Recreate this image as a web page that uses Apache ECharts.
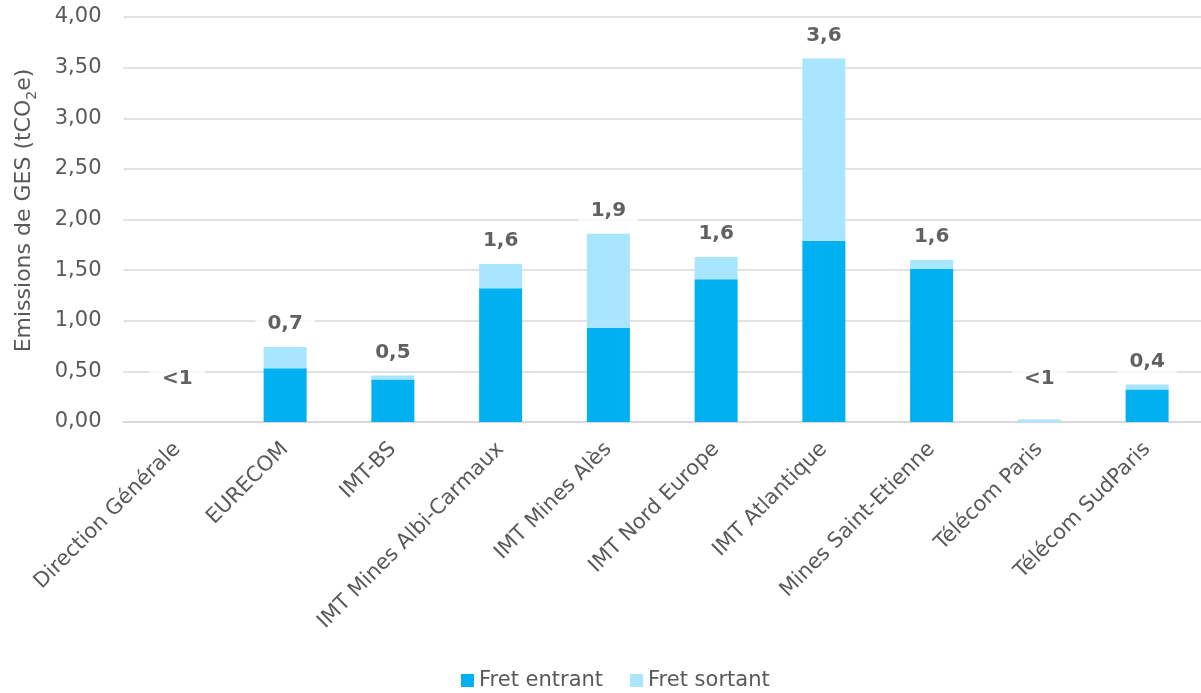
<!DOCTYPE html>
<html>
<head>
<meta charset="utf-8">
<script src="https://cdn.jsdelivr.net/npm/echarts@6/dist/echarts.min.js"></script>
<style>
  html, body { margin: 0; padding: 0; background: #ffffff; }
  #chart { width: 1201px; height: 693px; }
</style>
</head>
<body>
<div id="chart"></div>
<script>
// Établissements
const categories = [
  'Direction Générale', 'EURECOM', 'IMT-BS', 'IMT Mines Albi-Carmaux',
  'IMT Mines Alès', 'IMT Nord Europe', 'IMT Atlantique',
  'Mines Saint-Etienne', 'Télécom Paris', 'Télécom SudParis'
];
// Émissions en tCO2e
const fretEntrant = [0, 0.53, 0.42, 1.32, 0.93, 1.41, 1.79, 1.51, 0, 0.32];
const fretSortant = [0, 0.21, 0.04, 0.24, 0.93, 0.22, 1.80, 0.09, 0.025, 0.05];
// Totaux affichés au-dessus des barres
const totalLabels = ['<1', '0,7', '0,5', '1,6', '1,9', '1,6', '3,6', '1,6', '<1', '0,4'];
const yTicks = { min: 0, max: 4, interval: 0.5 };

const FONT = 'DejaVu Sans';
const totals = fretEntrant.map((v, i) => v + fretSortant[i]);
// small bars still get their label lifted off the baseline
const labelAnchors = totals.map(t => Math.max(t, 0.2));

const chart = echarts.init(document.getElementById('chart'), null, { renderer: 'canvas' });
chart.setOption({
  animation: false,
  backgroundColor: '#ffffff',
  textStyle: { fontFamily: FONT },
  grid: { left: 123.5, right: -4, top: 17, bottom: 271, containLabel: false },
  legend: {
    bottom: -3,
    left: 456,
    itemWidth: 13,
    itemHeight: 13,
    itemGap: 27,
    icon: 'rect',
    textStyle: { color: '#595959', fontSize: 21, fontFamily: FONT },
    data: ['Fret entrant', 'Fret sortant']
  },
  xAxis: {
    type: 'category',
    data: categories,
    axisTick: { show: false },
    axisLine: { lineStyle: { color: '#d9d9d9', width: 2 } },
    axisLabel: {
      interval: 0,
      rotate: 45,
      margin: 24,
      color: '#595959',
      fontSize: 21,
      fontFamily: FONT
    }
  },
  yAxis: {
    type: 'value',
    min: yTicks.min,
    max: yTicks.max,
    interval: yTicks.interval,
    name: '{a|Emissions de GES (tCO}{s|2}{a|e)}',
    nameLocation: 'middle',
    nameGap: 88,
    nameRotate: 90,
    nameTextStyle: {
      padding: [0, 0, 0, 18],
      rich: {
        a: { color: '#595959', fontSize: 22, fontFamily: FONT, lineHeight: 26, verticalAlign: 'bottom' },
        s: { color: '#595959', fontSize: 14, fontFamily: FONT, lineHeight: 26, verticalAlign: 'bottom', padding: [0, 0, -4, 0] }
      }
    },
    axisLine: { show: false },
    axisTick: { show: false },
    splitLine: { lineStyle: { color: '#d9d9d9', width: 1.5 } },
    axisLabel: {
      color: '#595959',
      fontSize: 21,
      fontFamily: FONT,
      margin: 22,
      formatter: v => v.toFixed(2).replace('.', ',')
    }
  },
  series: [
    {
      name: 'Fret entrant',
      type: 'bar',
      stack: 'fret',
      barWidth: 43,
      itemStyle: { color: '#00B0F0' },
      data: fretEntrant
    },
    {
      name: 'Fret sortant',
      type: 'bar',
      stack: 'fret',
      barWidth: 43,
      itemStyle: { color: '#A8E6FF' },
      data: fretSortant
    },
    {
      name: 'Total',
      type: 'scatter',
      symbolSize: 0,
      silent: true,
      z: 5,
      data: labelAnchors,
      label: {
        show: true,
        position: 'top',
        distance: 11,
        formatter: p => totalLabels[p.dataIndex],
        color: '#3a3a3a',
        fontSize: 20,
        fontWeight: 'bold',
        fontFamily: FONT,
        backgroundColor: '#ffffff',
        padding: [2, 12, 2, 12]
      }
    }
  ]
});
</script>
</body>
</html>
